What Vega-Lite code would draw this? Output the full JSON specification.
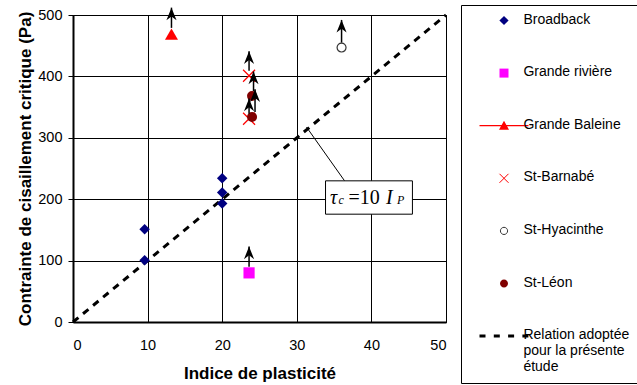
{
  "$schema": "https://vega.github.io/schema/vega-lite/v6.json",
  "width": 373,
  "height": 307,
  "autosize": {"type": "none"},
  "padding": {"left": 73, "top": 15, "right": 191, "bottom": 63},
  "background": "white",
  "config": {
    "view": {"stroke": "black", "strokeWidth": 1},
    "axis": {
      "grid": true, "gridColor": "black", "gridOpacity": 1, "gridWidth": 1,
      "domainColor": "black", "domainWidth": 2,
      "tickColor": "black",
      "labelFont": "Liberation Sans", "labelFontSize": 14.5, "labelColor": "black",
      "titleFont": "Liberation Sans", "titleFontSize": 17, "titleFontWeight": "bold", "titleColor": "black"
    },
    "legend": {
      "title": null, "orient": "none", "legendX": 388, "legendY": -10, "padding": 8,
      "strokeColor": "black", "fillColor": "white", "cornerRadius": 0,
      "symbolSize": 400, "symbolStrokeWidth": 1, "symbolOpacity": 1, "symbolOffset": 24.5,
      "labelFont": "Liberation Sans", "labelFontSize": 14, "labelColor": "black",
      "labelBaseline": "alphabetic", "labelOffset": 8.9, "labelLimit": 300,
      "rowPadding": 37.6
    }
  },
  "datasets": {
    "relation": [{"ip": 0, "tau": 0}, {"ip": 50, "tau": 500}],
    "leader": [{"ip": 31.3, "tau": 317.5, "ip2": 36.4, "tau2": 230}],
    "box": [{"ip": 33.85, "tau": 175.6, "ip2": 45.5, "tau2": 229.9}],
    "eq": [
      {"part": "τ", "ip": 34.45, "tau": 191.4},
      {"part": "c", "ip": 35.6, "tau": 191.4},
      {"part": "=10", "ip": 36.93, "tau": 191.4},
      {"part": "I", "ip": 41.96, "tau": 191.4},
      {"part": "P", "ip": 43.43, "tau": 191.4}
    ],
    "pts": [
      {"site": "Broadback", "ip": 9.6, "tau": 151},
      {"site": "Broadback", "ip": 9.6, "tau": 100.5},
      {"site": "Broadback", "ip": 20, "tau": 234},
      {"site": "Broadback", "ip": 20, "tau": 211},
      {"site": "Broadback", "ip": 20, "tau": 193},
      {"site": "Grande rivière", "ip": 23.6, "tau": 80},
      {"site": "Grande Baleine", "ip": 13.2, "tau": 469},
      {"site": "St-Barnabé", "ip": 23.6, "tau": 401},
      {"site": "St-Barnabé", "ip": 23.6, "tau": 331},
      {"site": "St-Hyacinthe", "ip": 36.0, "tau": 447},
      {"site": "St-Léon", "ip": 24.0, "tau": 368},
      {"site": "St-Léon", "ip": 24.0, "tau": 334}
    ],
    "arrows": [
      {"ip": 23.6, "tau": 90, "tau2": 123},
      {"ip": 13.2, "tau": 479, "tau2": 512},
      {"ip": 36.0, "tau": 455, "tau2": 492},
      {"ip": 23.6, "tau": 409, "tau2": 441},
      {"ip": 24.2, "tau": 376, "tau2": 408},
      {"ip": 24.4, "tau": 342, "tau2": 379},
      {"ip": 23.6, "tau": 339, "tau2": 364}
    ],
    "legend": [
      {"entry": "Broadback"},
      {"entry": "Grande rivière"},
      {"entry": "Grande Baleine"},
      {"entry": "St-Barnabé"},
      {"entry": "St-Hyacinthe"},
      {"entry": "St-Léon"},
      {"entry": "Relation adoptée|pour la présente|étude"}
    ]
  },
  "layer": [
    {
      "data": {"name": "relation"},
      "mark": {"type": "line", "color": "black", "strokeWidth": 3, "strokeDash": [7, 6]},
      "encoding": {
        "x": {"field": "ip", "type": "quantitative", "scale": {"domain": [0, 50], "nice": false},
          "axis": {"values": [0, 10, 20, 30, 40, 50], "title": "Indice de plasticité", "ticks": false, "tickSize": 0, "labelPadding": 16, "titlePadding": 14}},
        "y": {"field": "tau", "type": "quantitative", "scale": {"domain": [0, 500], "nice": false},
          "axis": {"values": [0, 100, 200, 300, 400, 500], "title": "Contrainte de cisaillement critique (Pa)", "ticks": true, "tickSize": 5, "labelPadding": 6, "titlePadding": 3}}
      }
    },
    {
      "data": {"name": "leader"},
      "mark": {"type": "rule", "color": "black", "strokeWidth": 1},
      "encoding": {
        "x": {"field": "ip", "type": "quantitative"},
        "y": {"field": "tau", "type": "quantitative"},
        "x2": {"field": "ip2"},
        "y2": {"field": "tau2"}
      }
    },
    {
      "data": {"name": "box"},
      "mark": {"type": "rect", "fill": "white", "stroke": "black", "strokeWidth": 1},
      "encoding": {
        "x": {"field": "ip", "type": "quantitative"},
        "y": {"field": "tau", "type": "quantitative"},
        "x2": {"field": "ip2"},
        "y2": {"field": "tau2"}
      }
    },
    {
      "data": {"name": "eq"},
      "transform": [{"filter": "datum.part === 'τ' || datum.part === 'I'"}],
      "mark": {"type": "text", "align": "left", "baseline": "alphabetic", "font": "Liberation Serif", "fontSize": 20, "fontStyle": "italic", "color": "black"},
      "encoding": {
        "x": {"field": "ip", "type": "quantitative"},
        "y": {"field": "tau", "type": "quantitative"},
        "text": {"field": "part"}
      }
    },
    {
      "data": {"name": "eq"},
      "transform": [{"filter": "datum.part === '=10'"}],
      "mark": {"type": "text", "align": "left", "baseline": "alphabetic", "font": "Liberation Serif", "fontSize": 20, "color": "black"},
      "encoding": {
        "x": {"field": "ip", "type": "quantitative"},
        "y": {"field": "tau", "type": "quantitative"},
        "text": {"field": "part"}
      }
    },
    {
      "data": {"name": "eq"},
      "transform": [{"filter": "datum.part === 'c' || datum.part === 'P'"}],
      "mark": {"type": "text", "align": "left", "baseline": "alphabetic", "font": "Liberation Serif", "fontSize": 12, "fontStyle": "italic", "color": "black"},
      "encoding": {
        "x": {"field": "ip", "type": "quantitative"},
        "y": {"field": "tau", "type": "quantitative"},
        "text": {"field": "part"}
      }
    },
    {
      "data": {"name": "pts"},
      "transform": [{"filter": "datum.site === 'Broadback'"}],
      "mark": {"type": "point", "shape": "diamond", "size": 110, "filled": true, "fill": "#000080", "strokeWidth": 0, "opacity": 1},
      "encoding": {"x": {"field": "ip", "type": "quantitative"}, "y": {"field": "tau", "type": "quantitative"}}
    },
    {
      "data": {"name": "pts"},
      "transform": [{"filter": "datum.site === 'Grande rivière'"}],
      "mark": {"type": "point", "shape": "square", "size": 125, "filled": true, "fill": "#FF00FF", "strokeWidth": 0, "opacity": 1},
      "encoding": {"x": {"field": "ip", "type": "quantitative"}, "y": {"field": "tau", "type": "quantitative"}}
    },
    {
      "data": {"name": "pts"},
      "transform": [{"filter": "datum.site === 'Grande Baleine'"}],
      "mark": {"type": "point", "shape": "triangle-up", "size": 169, "filled": true, "fill": "#FF0000", "strokeWidth": 0, "opacity": 1},
      "encoding": {"x": {"field": "ip", "type": "quantitative"}, "y": {"field": "tau", "type": "quantitative"}}
    },
    {
      "data": {"name": "pts"},
      "transform": [{"filter": "datum.site === 'St-Barnabé'"}],
      "mark": {"type": "point", "shape": "M-1,-1L1,1M-1,1L1,-1", "size": 144, "filled": false, "stroke": "#FF0000", "strokeWidth": 1.2, "opacity": 1},
      "encoding": {"x": {"field": "ip", "type": "quantitative"}, "y": {"field": "tau", "type": "quantitative"}}
    },
    {
      "data": {"name": "pts"},
      "transform": [{"filter": "datum.site === 'St-Hyacinthe'"}],
      "mark": {"type": "point", "shape": "circle", "size": 80, "filled": true, "fill": "white", "stroke": "#333333", "strokeWidth": 1.2, "opacity": 1},
      "encoding": {"x": {"field": "ip", "type": "quantitative"}, "y": {"field": "tau", "type": "quantitative"}}
    },
    {
      "data": {"name": "pts"},
      "transform": [{"filter": "datum.site === 'St-Léon'"}],
      "mark": {"type": "point", "shape": "circle", "size": 100, "filled": true, "fill": "#800000", "strokeWidth": 0, "opacity": 1},
      "encoding": {"x": {"field": "ip", "type": "quantitative"}, "y": {"field": "tau", "type": "quantitative"}}
    },
    {
      "data": {"name": "arrows"},
      "mark": {"type": "rule", "color": "black", "strokeWidth": 1.5},
      "encoding": {
        "x": {"field": "ip", "type": "quantitative"},
        "y": {"field": "tau", "type": "quantitative"},
        "y2": {"field": "tau2"}
      }
    },
    {
      "data": {"name": "arrows"},
      "mark": {"type": "point", "shape": "M0,0L0.46,1.15L0,0.8L-0.46,1.15Z", "size": 484, "filled": true, "fill": "black", "strokeWidth": 0, "opacity": 1},
      "encoding": {
        "x": {"field": "ip", "type": "quantitative"},
        "y": {"field": "tau2", "type": "quantitative"}
      }
    },
    {
      "data": {"name": "legend"},
      "mark": {"type": "point", "opacity": 0, "filled": true},
      "encoding": {
        "shape": {"field": "entry", "type": "nominal",
          "scale": {"domain": ["Broadback", "Grande rivière", "Grande Baleine", "St-Barnabé", "St-Hyacinthe", "St-Léon", "Relation adoptée|pour la présente|étude"],
            "range": [
              "M0,-0.74L0.46,-0.3L0,0.14L-0.46,-0.3Z",
              "M-0.45,-0.75H0.45V0.15H-0.45Z",
              "M-2.45,-0.36H2.45V-0.24H-2.45ZM0,-0.79L0.5,0.11L-0.5,0.11Z",
              "M-0.45,-0.75L0.45,0.15M-0.45,0.15L0.45,-0.75",
              "M0.36,-0.3A0.36,0.36,0,1,1,-0.36,-0.3A0.36,0.36,0,1,1,0.36,-0.3Z",
              "M0.4,-0.3A0.4,0.4,0,1,1,-0.4,-0.3A0.4,0.4,0,1,1,0.4,-0.3Z",
              "M-2.45,-0.45H-1.85V-0.15H-2.45ZM-1.02,-0.45H-0.42V-0.15H-1.02ZM0.41,-0.45H1.01V-0.15H0.41ZM1.84,-0.45H2.44V-0.15H1.84Z"
            ]},
          "legend": {"labelExpr": "split(datum.label, '|')"}
        },
        "fill": {"field": "entry", "type": "nominal",
          "scale": {"domain": ["Broadback", "Grande rivière", "Grande Baleine", "St-Barnabé", "St-Hyacinthe", "St-Léon", "Relation adoptée|pour la présente|étude"],
            "range": ["#000080", "#FF00FF", "#FF0000", "#FF0000", "#FFFFFF", "#800000", "#000000"]},
          "legend": {"labelExpr": "split(datum.label, '|')"}
        },
        "stroke": {"field": "entry", "type": "nominal",
          "scale": {"domain": ["Broadback", "Grande rivière", "Grande Baleine", "St-Barnabé", "St-Hyacinthe", "St-Léon", "Relation adoptée|pour la présente|étude"],
            "range": ["transparent", "transparent", "transparent", "#FF0000", "#333333", "transparent", "transparent"]},
          "legend": {"labelExpr": "split(datum.label, '|')"}
        }
      }
    }
  ]
}
